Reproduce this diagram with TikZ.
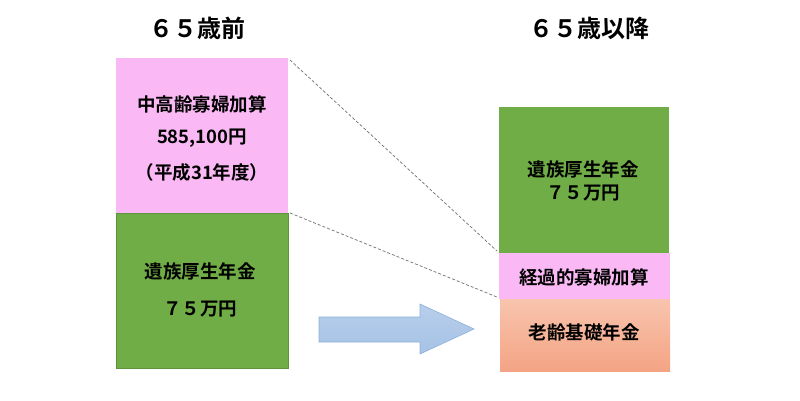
\documentclass[tikz,border=0pt]{standalone}
\usepackage{fontspec}
\setmainfont{Noto Sans CJK JP}[BoldFont={* Bold}]
\newfontfamily\jp{Noto Sans CJK JP Bold}
\definecolor{pinkbox}{HTML}{FAB9F4}
\definecolor{greenbox}{HTML}{70AD47}
\definecolor{salmontop}{HTML}{F8C4AE}
\definecolor{salmonbot}{HTML}{F4A484}
\definecolor{arrowfill}{HTML}{A6C2E6}
\definecolor{arrowline}{HTML}{8EB0DC}
\definecolor{dashgray}{HTML}{707070}
\tikzset{
  boxtext/.style={font=\jp\fontsize{18.5}{22}\selectfont, text=black, inner sep=0pt},
  titletext/.style={font=\jp\fontsize{24}{28}\selectfont, text=black, inner sep=0pt},
  connline/.style={draw=dashgray, densely dashed, line width=0.7pt}
}
\begin{document}
\begin{tikzpicture}[x=1pt,y=-1pt]
\useasboundingbox (0,0) rectangle (800,400);
\fill[white] (0,0) rectangle (800,400);
% left column
\fill[pinkbox] (116,58) rectangle (288,213);
\fill[greenbox] (116,213) rectangle (288,368);
\draw[greenbox!85!black, line width=0.6pt] (116,213) rectangle (288,368);
% right column
\fill[greenbox] (499,107) rectangle (669,253);
\fill[pinkbox] (499,253) rectangle (670,299);
\shade[top color=salmontop, bottom color=salmonbot] (500,299) rectangle (670,371);
% coordinates for connectors
\coordinate (lt) at (290,60);
\coordinate (lb) at (290,213);
\coordinate (rt) at (497,251);
\coordinate (rb) at (497,297);
\draw[connline] (lt) -- (rt);
\draw[connline] (lb) -- (rb);
% arrow
\shade[top color=arrowfill!80!white, bottom color=arrowfill, draw=arrowline, line width=0.6pt]
  (319,317) -- (420,317) -- (420,304) -- (474,329) -- (420,354) -- (420,342) -- (319,342) -- cycle;
% titles
\node[titletext] (t1) at (197,28) {６５歳前};
\node[titletext] (t2) at (589,28) {６５歳以降};
% texts
\node[boxtext] (a1) at (202,104) {中高齢寡婦加算};
\node[boxtext] (a2) at (202,138) {585,100円};
\node[boxtext] (a3) at (202,172) {（平成31年度）};
\node[boxtext] (b1) at (200,271) {遺族厚生年金};
\node[boxtext] (b2) at (200,309) {７５万円};
\node[boxtext] (c1) at (583,169) {遺族厚生年金};
\node[boxtext] (c2) at (583,193) {７５万円};
\node[boxtext] (d1) at (584,277) {経過的寡婦加算};
\node[boxtext] (e1) at (584,332) {老齢基礎年金};
\end{tikzpicture}
\end{document}
